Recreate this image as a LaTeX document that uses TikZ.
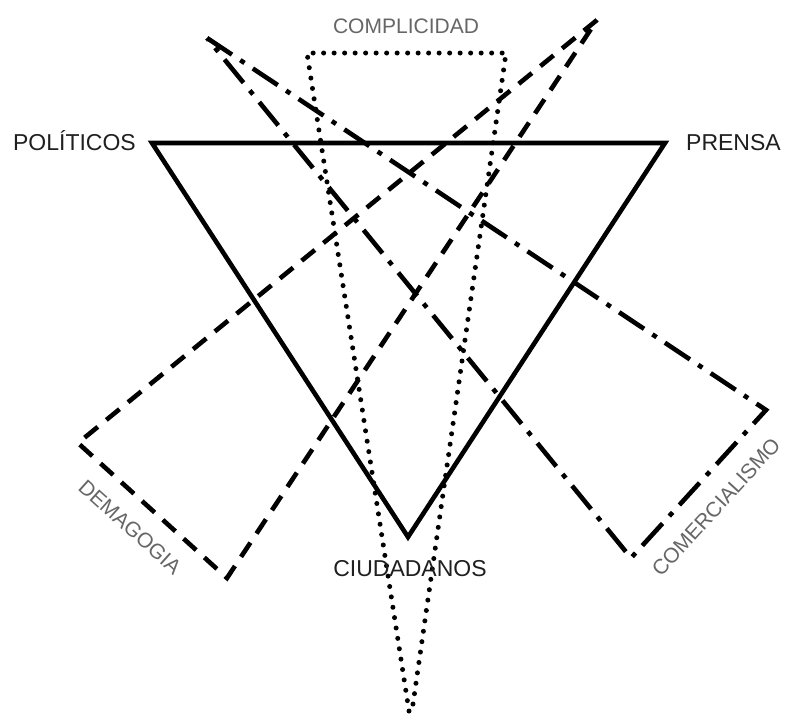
\documentclass[tikz,border=0pt]{standalone}
\usepackage{fontspec}
\setmainfont{Liberation Sans}
\begin{document}
\begin{tikzpicture}[x=1pt,y=-1pt,
  solidline/.style={line width=4.6pt, line join=miter},
  dashline/.style={line width=4.6pt, dash pattern=on 17pt off 11pt, line join=miter},
  dashdotline/.style={line width=4.6pt, dash pattern=on 30pt off 10pt on 5pt off 10pt, line join=miter},
  dotline/.style={line width=5pt, line cap=round, dash pattern=on 0pt off 10.5pt},
  mainlabel/.style={inner sep=0pt, font=\fontsize{23}{27}\selectfont, text=black!88},
  lightlabel/.style={inner sep=0pt, font=\fontsize{21}{25}\selectfont, text=black!60}]
\useasboundingbox (0,0) rectangle (785,716);
% solid triangle
\coordinate (P) at (152,143);
\coordinate (R) at (665,143);
\coordinate (C) at (408,537);
\draw[solidline] (P) -- (R) -- (C) -- cycle;
% dotted complicity shape
\coordinate (K1) at (307,53);
\coordinate (K2) at (506,53);
\coordinate (K3) at (412,711);
\coordinate (K4) at (409,711);
\draw[dotline] (K4) -- (K1) -- (K2) -- (K3);
% dashed demagogy shape
\coordinate (D1) at (597,20);
\coordinate (D2) at (78,443);
\coordinate (D3) at (227,578);
\draw[dashline] (D1) -- (D2) -- (D3) -- cycle;
% dash-dot commercialism shape
\coordinate (M1) at (207,38);
\coordinate (M2) at (766,410);
\coordinate (M3) at (631,558);
\draw[dashdotline] (M1) -- (M2) -- (M3) -- cycle;
% labels
\node[mainlabel, anchor=base east] (lpol) at (136,150) {POLÍTICOS};
\node[mainlabel, anchor=base west] (lpre) at (686,150) {PRENSA};
\node[mainlabel, anchor=base] (lciu) at (410,576) {CIUDADANOS};
\node[lightlabel, anchor=base] (lcom) at (406,33) {COMPLICIDAD};
\node[lightlabel, rotate=-42] (ldem) at (130,527) {DEMAGOGIA};
\node[lightlabel, rotate=47.6] (lcms) at (716,507) {COMERCIALISMO};
\end{tikzpicture}
\end{document}
